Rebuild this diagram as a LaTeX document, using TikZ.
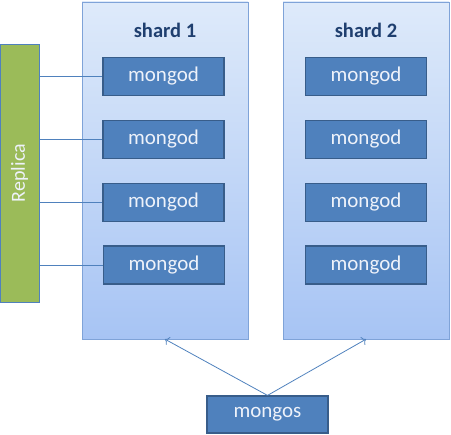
\documentclass[tikz,border=0pt]{standalone}
\usepackage{fontspec}
\setmainfont{Carlito}
\usepackage{xcolor}
\usetikzlibrary{positioning, arrows.meta}

\definecolor{dbfill}{HTML}{4F81BD}
\definecolor{dbline}{HTML}{385D8A}
\definecolor{dbtext}{HTML}{EEF2FA}
\definecolor{shtop}{HTML}{DEEAFA}
\definecolor{shbot}{HTML}{A7C4F4}
\definecolor{shline}{HTML}{7FA3D8}
\definecolor{repfill}{HTML}{9BBB59}
\definecolor{titlecol}{HTML}{1F3F6F}

\tikzset{
    shardbox/.style={draw=shline, top color=shtop, bottom color=shbot, minimum width=166pt, minimum height=337pt, inner sep=0pt},
    dbbox/.style={draw=dbline, line width=1.2pt, fill=dbfill, text=dbtext, font=\fontsize{21}{23}\selectfont, minimum width=121pt, minimum height=38pt, inner sep=0pt},
    repbox/.style={draw=dbfill, fill=repfill, minimum width=39pt, minimum height=258pt, inner sep=0pt},
    link/.style={draw=dbfill, line width=0.8pt},
}

\begin{document}
\begin{tikzpicture}[x=1pt, y=-1pt]
        \useasboundingbox (0,0) rectangle (451,435);

        % shards
        \node[shardbox] (s1) at (165,170.5) {};
        \node[shardbox] (s2) at (366,170.5) {};
        \node[text=titlecol, font=\bfseries\fontsize{20.5}{23}\selectfont] (t1) at (165,30) {shard 1};
        \node[text=titlecol, font=\bfseries\fontsize{20.5}{23}\selectfont] (t2) at (366,30) {shard 2};

        \node[dbbox] (m11) at (163.5,76.5) {mongod};
        \node[dbbox] (m12) at (163.5,139.5) {mongod};
        \node[dbbox] (m13) at (163.5,202.5) {mongod};
        \node[dbbox] (m14) at (164,265) {mongod};

        \node[dbbox] (m21) at (366,76.5) {mongod};
        \node[dbbox] (m22) at (366,139.5) {mongod};
        \node[dbbox] (m23) at (366,202.5) {mongod};
        \node[dbbox] (m24) at (366,265) {mongod};

        % replica set
        \node[repbox] (rep) at (19.5,173) {};
        \node[rotate=90, text=dbtext, font=\fontsize{20}{22}\selectfont] (repl) at (rep.center) {Replica};

        \draw[link] (rep.east |- m11) -- (m11.west);
        \draw[link] (rep.east |- m12) -- (m12.west);
        \draw[link] (rep.east |- m13) -- (m13.west);
        \draw[link] (rep.east |- m14) -- (m14.west);

        % router
        \node[dbbox, minimum height=37pt] (ms) at (267.5,414.5) {mongos};
        \draw[link, -{To[length=4pt, width=9pt]}] (ms.north) -- (s1.south);
        \draw[link, -{To[length=4pt, width=9pt]}] (ms.north) -- (s2.south);
    \end{tikzpicture}
\end{document}
